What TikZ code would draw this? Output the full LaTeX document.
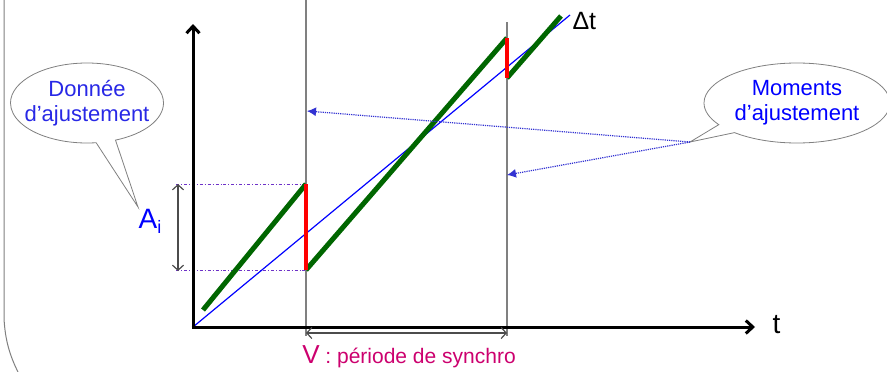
\documentclass[tikz,border=0pt]{standalone}
\usepackage{fontspec}
\setmainfont{Liberation Sans}
\usetikzlibrary{shapes.callouts,arrows.meta}
\definecolor{dkgreen}{RGB}{0,102,0}
\definecolor{calloutblue}{RGB}{40,40,230}
\definecolor{dotblue}{RGB}{50,50,210}
\definecolor{dashpurple}{RGB}{110,50,200}
\definecolor{synchro}{RGB}{204,0,110}
\tikzset{
  axis/.style={line width=3pt,-{Straight Barb[length=7pt,width=13pt]}},
  vline/.style={line width=1.2pt,gray},
  ramp/.style={line width=5pt,dkgreen},
  jump/.style={line width=4pt,red},
  ref/.style={line width=1.2pt,blue},
  guide/.style={line width=0.9pt,dashpurple,dash dot},
  span/.style={line width=1.2pt,black!70,{Straight Barb[length=5pt,width=11pt]}-{Straight Barb[length=5pt,width=11pt]}},
  pointer/.style={line width=1.2pt,dotblue,densely dotted,-{Latex[length=9pt,width=9pt]}},
  bubble/.style={ellipse callout,draw=gray,line width=0.8pt,fill=white,inner sep=0pt},
  bubbletext/.style={align=center,text=calloutblue,font=\fontsize{22}{25}\selectfont,inner sep=0pt},
}
\begin{document}
\begin{tikzpicture}[x=1pt,y=-1pt]
\useasboundingbox (0,0) rectangle (887,372);
% left frame edge
\draw[gray,line width=1pt] (4,0) -- (4,318) .. controls (5,340) and (10,356) .. (18,372);

% reference coordinates
\coordinate (O) at (193,327);
\coordinate (ytop) at (193,24);
\coordinate (xend) at (755,327);
\coordinate (v1top) at (306,0);
\coordinate (v1bot) at (306,336);
\coordinate (v2top) at (507,22);
\coordinate (v2bot) at (507,336);
\coordinate (hi) at (306,184);
\coordinate (lo) at (306,270);
\coordinate (hi2) at (507,38);
\coordinate (lo2) at (507,78);

% vertical period lines
\draw[vline] (v1top) -- (v1bot);
\draw[vline] (v2top) -- (v2bot);

% guides
\draw[guide] (176,184) -- (hi);
\draw[guide] (176,270) -- (lo);

% reference blue line
\draw[ref] (O) -- (570,15);

% green ramps
\draw[ramp] (203,310) -- (hi);
\draw[ramp] (lo) -- (hi2);
\draw[ramp] (lo2) -- (561,16);

% red jumps
\draw[jump] (hi) -- (lo);
\draw[jump] (hi2) -- (lo2);

% axes
\draw[axis] (O) -- (ytop);
\draw[axis] (191.5,327) -- (xend);

% span arrows
\draw[span] (178,184) -- (178,271);
\draw[span] (306,333) -- (507,333);

% labels
\node[font=\fontsize{28}{28}\selectfont,anchor=base west] (tlab) at (769,333) {t};
\node[font=\fontsize{25}{25}\selectfont,anchor=base west] (dlab) at (569,29) {Δt};
\node[text=blue,font=\fontsize{28}{28}\selectfont,anchor=base] (ai) at (150,228) {A\raisebox{-0.35ex}{\fontsize{18}{18}\selectfont i}};
\node[text=synchro,anchor=base,font=\fontsize{21}{21}\selectfont] (vlab) at (409,363)
  {{\fontsize{26}{26}\selectfont V} : période de synchro};

% callouts
\coordinate (tipA) at (138,207);
\coordinate (tipB) at (690,142);
\node[bubble,minimum width=153pt,minimum height=80pt,callout absolute pointer={(tipA)}] (don) at (87,103) {};
\node[bubbletext] (dontext) at (don.center) {Donnée\\d’ajustement};
\node[bubble,minimum width=186pt,minimum height=80pt,callout absolute pointer={(tipB)}] (mom) at (797,103) {};
\node[bubbletext,text=blue] (momtext) at (mom.center) {Moments\\d’ajustement};

% adjustment pointers
\coordinate (p1) at (307,111);
\coordinate (p2) at (507,175);
\draw[pointer] (tipB) -- (p1);
\draw[pointer] (tipB) -- (p2);
\end{tikzpicture}
\end{document}
